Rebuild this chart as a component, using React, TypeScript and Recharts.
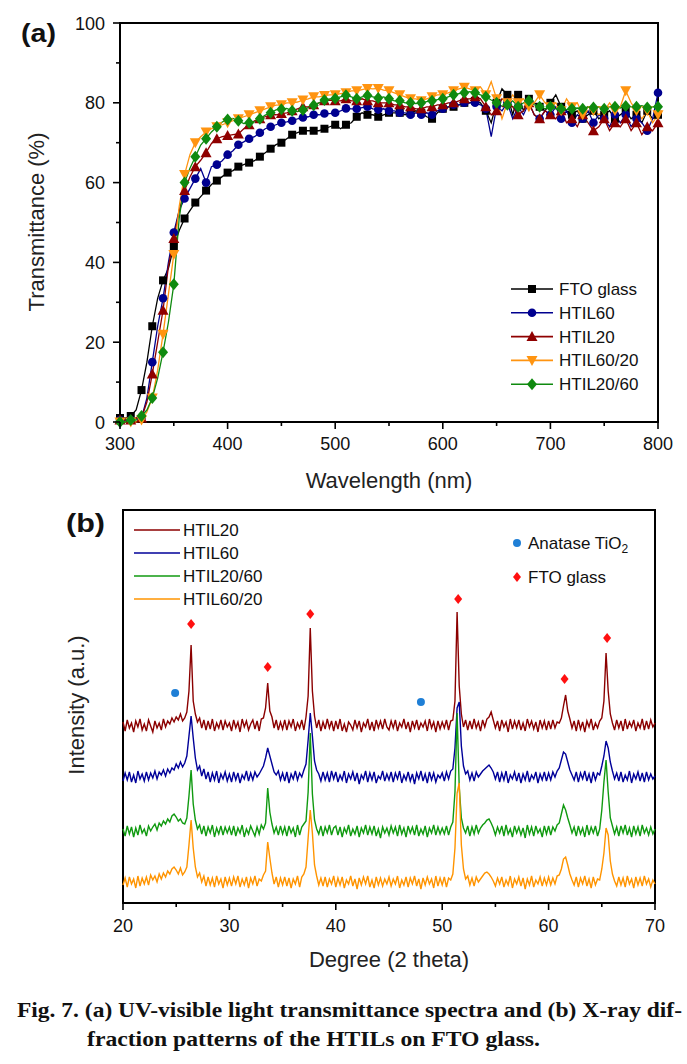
import React from 'react';
import { LineChart, Line, XAxis, YAxis, ReferenceArea, Legend, ComposedChart, Scatter } from 'recharts';

// ---------- (a) UV-visible transmittance, 300-800 nm every 5 nm ----------
const wavelengthStart = 300;
const wavelengthStep = 5;
const ftoGlassT = [
  1, 1, 1.5, 3, 8, 15, 24, 31, 35.5, 38.5,
  44, 48, 51, 53, 55, 56.5, 58, 59.5, 60.5, 61.5,
  62.5, 63, 64, 64.5, 65, 65.5, 66.5, 67.5, 68.5, 69.5,
  70, 71, 72, 72.5, 73, 73, 73, 73, 73.5, 74,
  74.5, 73.5, 74.5, 75, 76.5, 77.5, 77, 77, 76.5, 77,
  77.5, 77.5, 77.5, 77, 77.5, 78, 77.5, 76.5, 76, 77.5,
  78.5, 79, 79, 79.5, 80, 80, 80.5, 80, 78, 75,
  80, 83.5, 82, 77, 82, 78, 81, 80, 79, 78,
  80, 82, 79, 78, 77, 78, 76, 77, 78, 76,
  77, 78, 76, 77, 78, 76, 77, 75, 78, 76,
  77,
];
const htil60T = [
  0.5, 0.5, 0.5, 1, 1, 6, 15, 24, 31, 40,
  47.5, 53, 56, 58.5, 61, 63.5, 60, 64, 64.5, 65.5,
  67, 68, 69.5, 70.2, 71, 71.5, 72.5, 73.5, 74, 74.5,
  75, 75.2, 75.5, 76, 76.3, 76.5, 77, 77, 77.3, 77.3,
  77.5, 78, 78.6, 78.5, 78.5, 78.8, 79, 78.5, 78.3, 78.5,
  78, 78, 77.5, 77.5, 77, 77.5, 77, 77.5, 77, 78,
  78.5, 79, 79.5, 79.5, 80, 80, 80, 79.5, 78.5, 71.5,
  79, 78, 80, 76, 79, 77, 80, 77, 76, 78,
  77, 79, 76, 78, 75, 77, 76, 78, 75, 77,
  76, 74, 77, 75, 77, 74, 76, 75, 73, 76,
  82.5,
];
const htil20T = [
  0.5, 0.5, 0.5, 1, 1, 5, 12, 20, 28, 39,
  46, 53, 58, 61.4, 64, 65.6, 67.5, 69.8, 71, 71.5,
  71.8, 72, 72.2, 73.5, 74.5, 75.5, 76, 76.5, 77, 77,
  77.3, 77.5, 78, 78.5, 79, 79, 79.5, 80, 80.5, 80.7,
  80.5, 80.5, 81, 80.5, 80.5, 81, 80.5, 80.5, 80, 80,
  80, 79.5, 79.5, 79, 79, 78.5, 78.5, 79, 79, 79.5,
  79.5, 80, 80, 80.5, 81, 81, 81.5, 81, 79, 77,
  78, 81, 80, 79, 77, 78, 80, 77, 76, 78,
  77, 76, 78, 75, 76, 74, 77, 75, 73, 74,
  76, 73, 75, 74, 76, 73, 75, 72, 74, 73,
  75,
];
const htil6020T = [
  0, 0, 0, 0, 0.5, 2.5, 6, 13, 22, 32,
  42, 54, 62, 67, 70, 71.5, 72.7, 73.5, 74, 74.5,
  75, 75.5, 76, 76.5, 77, 77.5, 78, 78.5, 79, 79.4,
  79.5, 80, 80, 80.2, 80.7, 81, 81.5, 81.5, 81.8, 82,
  82, 82.3, 82.5, 83, 83, 83.3, 83.6, 83.5, 83.6, 83.2,
  83, 82.5, 82, 81.5, 81, 81, 80.5, 81, 81.5, 82,
  82, 82.5, 83, 83.5, 83.9, 83.5, 83, 84, 82, 85.3,
  81, 76, 80, 82, 80, 81, 79, 80, 82, 80,
  79, 80, 78, 81, 79, 80, 77, 79, 78, 77,
  78, 80, 78, 79, 83, 80, 78, 76, 78, 75,
  77,
];
const htil2060T = [
  0, 0, 0.5, 0.5, 1.5, 3, 6, 11, 17.5, 25,
  34.5, 51, 60, 63.6, 66.5, 69.4, 71, 72.7, 74, 75.2,
  75.8, 76.1, 75.5, 74.8, 75, 75.2, 76, 76.9, 77.5, 78.2,
  78.4, 78.6, 78, 77.8, 78.2, 78.8, 79.4, 80, 80.7, 81,
  81.1, 81.5, 81.9, 81.5, 81, 81.5, 81.8, 81.5, 81.2, 81.5,
  81, 80.5, 80.5, 80, 80, 79.8, 80, 80.3, 80.5, 80.8,
  81, 81.5, 82, 82.3, 82.5, 82.8, 82.5, 82, 81.5, 80.7,
  80, 79.1, 79.5, 80.5, 79, 80, 80.5, 79.5, 79, 78.5,
  79, 78.5, 78.5, 78.3, 78.5, 78.7, 78.5, 79, 78.8, 79,
  78.5, 79, 79, 78.7, 79.2, 79, 79, 79.3, 78.8, 79,
  79,
];
const uvNames = ['FTO glass', 'HTIL60', 'HTIL20', 'HTIL60/20', 'HTIL20/60'];
const uvColors = ['#000000', '#00008f', '#8f0000', '#ff9410', '#0f8a0f'];
const uvMarkers = ['square', 'circle', 'triangle', 'triangleDown', 'diamond'];
const uvXTicks = [300, 350, 400, 450, 500, 550, 600, 650, 700, 750, 800];
const uvYTicks = [0, 10, 20, 30, 40, 50, 60, 70, 80, 90, 100];
const uvSeries = [ftoGlassT, htil60T, htil20T, htil6020T, htil2060T];

const uvData = ftoGlassT.map((_, i) => {
  const row: any = { wl: wavelengthStart + i * wavelengthStep };
  uvSeries.forEach((s, k) => { row['s' + k] = s[i]; });
  return row;
});

// ---------- (b) XRD, 2theta 20-70 every 0.2 deg (raw intensities, a.u.) ----------
const twoThetaStart = 20;
const twoThetaStep = 0.2;
const xrdHtil20 = [
  4, -5, 6, -2, 3, -6, 5, -1, 7, -4, 2, -5, 6, 0, -6, 5, -2, 3, -4, 7, -1, 5, 2, 8, 4,
  9, 6, 12, 5, 8, 14, 35, 81, 25, 12, 4, 8, -2, 6, -4, 5, -3, 7, -5, 3, -2, 6, -4, 5, -1,
  3, -5, 6, -2, 4, -6, 7, -1, 5, -4, 2, 6, -3, 5, -5, 7, 8, 18, 43, 15, 9, -2, 6, -4, 4,
  -3, 6, -4, 5, -1, 7, -5, 3, -2, 6, -4, 9, 30, 98, 35, 10, -2, 6, -5, 4, -3, 7, -2, 5, -5,
  5, -3, 7, -5, 2, -6, 4, 1, -4, 6, -2, 5, -6, 3, -1, 7, -4, 4, -5, 6, -2, 5, -3, 7, -1,
  -4, 5, -2, 6, -5, 3, -1, 7, -3, 4, -6, 5, -2, 6, -4, 3, -1, 5, -5, 7, -2, 4, -6, 5, -3,
  4, -2, 6, -4, 5, 6, 25, 114, 40, 12, -1, 6, -4, 5, -3, 7, -2, 4, -5, 6, -1, 7, 9, 14, 6,
  -2, 5, -5, 6, -1, 4, -6, 7, -3, 5, -2, 6, -4, 3, -5, 7, -1, 5, -3, 4, -6, 6, -2, 5, -4,
  5, -3, 6, -2, 4, 3, 8, 20, 31, 15, 7, -2, 5, -5, 6, -3, 4, -6, 5, -1, 7, -4, 3, -2, 5,
  8, 25, 73, 35, 12, 3, -4, 6, -2, 5, -5, 7, -3, 4, -1, 6, -5, 3, -2, 7, -4, 5, -3, 6, -1,
  3,
];
const xrdHtil60 = [
  -3, 5, -2, 6, -4, 3, -5, 7, -1, 4, -3, 6, -2, 5, 0, 7, -1, 6, 3, 8, 2, 9, 5, 10, 8,
  14, 10, 16, 11, 15, 22, 42, 62, 40, 20, 8, 12, 2, 9, -1, 6, -4, 5, -2, 7, -5, 4, -1, 6, -3,
  4, -4, 6, -2, 5, -5, 3, -1, 7, -3, 5, -2, 6, 1, 4, 8, 12, 20, 30, 22, 14, 6, 3, 7, -2,
  5, -3, 6, -5, 4, -1, 7, -2, 5, 1, 8, 14, 38, 65, 42, 17, 8, 4, -3, 6, -2, 5, -4, 7, -1,
  6, -4, 3, -2, 7, -5, 4, -1, 6, -3, 5, -6, 3, -1, 7, -4, 5, -2, 6, -5, 2, -1, 7, -3, 4,
  -2, 6, -4, 5, -1, 7, -5, 3, -2, 6, -3, 4, -6, 5, -1, 7, -3, 4, -5, 6, -2, 5, -4, 3, 0,
  5, -3, 6, -1, 7, 9, 30, 70, 76, 32, 12, 4, 7, -2, 5, -3, 6, 1, 4, 7, 9, 11, 13, 10, 6,
  -1, 6, -4, 5, -2, 7, -5, 3, -1, 6, -3, 5, -5, 4, -2, 7, -4, 3, -1, 6, -5, 4, -2, 6, -3,
  5, -2, 6, 1, 7, 10, 18, 26, 24, 16, 8, 3, -2, 6, -4, 5, -1, 7, -3, 4, -5, 6, -2, 5, 3,
  12, 22, 37, 30, 16, 7, -1, 5, -3, 6, -4, 3, -2, 7, -5, 4, -1, 6, -3, 5, -4, 6, -2, 4, -1,
  2,
];
const xrdHtil2060 = [
  3, -4, 6, -2, 5, -5, 4, -3, 7, -1, 3, -4, 6, 1, 5, 8, 2, 9, 6, 11, 8, 13, 10, 16, 18,
  15, 11, 13, 9, 8, 14, 36, 62, 28, 12, 3, 7, -2, 6, -4, 5, -1, 7, -5, 4, -2, 6, -3, 5, -1,
  5, -3, 6, -4, 4, -1, 7, -5, 3, -2, 6, 1, -4, 5, -2, 7, 3, 9, 44, 20, 8, -1, 5, -3, 6,
  -2, 5, -4, 6, -1, 4, -5, 7, -3, 5, 8, 11, 40, 99, 38, 12, 3, -2, 6, -4, 5, -1, 7, -3, 4,
  6, -3, 5, -5, 4, -1, 7, -4, 3, -2, 6, -5, 4, -1, 7, -3, 5, -2, 6, -4, 3, -6, 5, -1, 4,
  -3, 6, -1, 5, -4, 7, -2, 4, -5, 6, -1, 5, -3, 7, -4, 3, -2, 6, -5, 4, -1, 7, -3, 5, -2,
  4, -2, 6, -3, 5, 10, 40, 119, 45, 14, 4, -1, 6, -4, 5, -2, 7, -1, 4, 7, 9, 12, 13, 9, 4,
  -3, 5, -1, 6, -4, 7, -2, 3, -5, 6, -1, 5, -3, 4, -6, 7, -2, 5, -4, 6, -1, 3, -5, 6, -2,
  6, -3, 5, 1, 7, 9, 18, 27, 22, 14, 7, -1, 5, -4, 6, -2, 4, -5, 7, -3, 5, -1, 6, -4, 3,
  22, 50, 72, 40, 14, 6, -2, 5, -4, 6, -1, 7, -3, 4, -5, 6, -2, 5, -4, 7, -1, 4, -3, 5, -2,
  3,
];
const xrdHtil6020 = [
  -2, 5, -4, 6, -1, 4, -5, 7, -3, 5, -1, 6, -2, 8, 3, 7, 1, 9, 4, 10, 6, 12, 9, 14, 16,
  13, 9, 15, 8, 11, 16, 38, 63, 35, 16, 6, 10, 1, 7, -3, 6, -2, 5, -4, 7, -1, 4, -5, 6, -2,
  5, -3, 6, -1, 7, -4, 4, -2, 6, -5, 5, -1, 7, -3, 4, 2, 8, 12, 41, 25, 10, -1, 6, -4, 5,
  -2, 6, -3, 5, -5, 4, -1, 7, -4, 6, 9, 16, 45, 73, 50, 18, 7, -2, 5, -3, 6, -4, 4, -1, 7,
  -4, 5, -2, 6, -5, 3, -1, 7, -3, 4, -6, 5, -2, 6, -1, 7, -4, 3, -5, 6, -2, 5, -3, 4, -1,
  6, -3, 4, -1, 7, -5, 3, -2, 6, -4, 5, -1, 7, -3, 4, -6, 5, -2, 6, -1, 4, -5, 7, -3, 5,
  -2, 6, -4, 5, 3, 9, 35, 90, 100, 38, 14, 4, 7, -2, 5, -3, 6, 1, 4, 7, 10, 11, 9, 6, 2,
  -3, 5, -1, 6, -4, 3, -2, 7, -5, 4, -1, 6, -3, 5, -6, 4, -2, 7, -4, 3, -1, 6, -3, 5, -2,
  6, -2, 5, -1, 7, 8, 14, 24, 26, 18, 9, 3, -2, 6, -4, 5, -1, 7, -3, 4, -5, 6, -2, 4, 3,
  14, 30, 55, 48, 22, 9, 2, -3, 6, -2, 5, -4, 7, -1, 4, -5, 6, -2, 5, -3, 7, -1, 4, -4, 3,
  -1,
];
const xrdNames = ['HTIL20', 'HTIL60', 'HTIL20/60', 'HTIL60/20'];
const xrdColors = ['#8b0000', '#000099', '#109a10', '#ff9400'];
const xrdOffsets = [177, 125, 71, 20];
const xrdSeries = [xrdHtil20, xrdHtil60, xrdHtil2060, xrdHtil6020];
const xrdXTicks = [20, 25, 30, 35, 40, 45, 50, 55, 60, 65, 70];
const anatasePeaks = [{ x: 24.9, y: 210 }, { x: 48.0, y: 201 }];
const ftoPeaks = [
  { x: 26.4, y: 279 }, { x: 33.6, y: 236 }, { x: 37.6, y: 289 },
  { x: 51.5, y: 304 }, { x: 61.5, y: 224 }, { x: 65.5, y: 265 },
];

const xrdData = xrdHtil20.map((_, i) => {
  const row: any = { x: Math.round((twoThetaStart + i * twoThetaStep) * 10) / 10 };
  xrdSeries.forEach((s, k) => { row['s' + k] = s[i] + xrdOffsets[k]; });
  return row;
});

const SANS = '"Liberation Sans", Arial, Helvetica, sans-serif';
const SERIF = '"Liberation Serif", "Times New Roman", serif';

function Marker({ shape, cx, cy, color }: any) {
  if (cx == null || cy == null) return null;
  switch (shape) {
    case 'square':
      return <rect x={cx - 4} y={cy - 4} width={8} height={8} fill={color} />;
    case 'circle':
      return <circle cx={cx} cy={cy} r={4.3} fill={color} />;
    case 'triangle':
      return <polygon points={`${cx},${cy - 5.5} ${cx + 5.5},${cy + 4.5} ${cx - 5.5},${cy + 4.5}`} fill={color} />;
    case 'triangleDown':
      return <polygon points={`${cx - 5.5},${cy - 4.5} ${cx + 5.5},${cy - 4.5} ${cx},${cy + 5.5}`} fill={color} />;
    default:
      return <polygon points={`${cx},${cy - 6} ${cx + 5},${cy} ${cx},${cy + 6} ${cx - 5},${cy}`} fill={color} />;
  }
}

const makeDot = (k: number) => (props: any) => {
  const { cx, cy, index } = props;
  if (index % 2 !== 0) return <g key={`d${k}-${index}`} />;
  return (
    <g key={`d${k}-${index}`}>
      <Marker shape={uvMarkers[k]} cx={cx} cy={cy} color={uvColors[k]} />
    </g>
  );
};

const UvXTick = (props: any) => {
  const { x, y, payload } = props;
  const v = payload.value;
  const major = v % 100 === 0;
  return (
    <g>
      <line x1={x} x2={x} y1={y} y2={y + (major ? 7 : 4)} stroke="#000" strokeWidth={1.6} />
      {major && (
        <text x={x} y={y + 28} textAnchor="middle" fontSize={18} fontFamily={SANS} fill="#111">{v}</text>
      )}
    </g>
  );
};

const UvYTick = (props: any) => {
  const { x, y, payload } = props;
  const v = payload.value;
  const major = v % 20 === 0;
  return (
    <g>
      <line x1={x} x2={x - (major ? 7 : 4)} y1={y} y2={y} stroke="#000" strokeWidth={1.6} />
      {major && (
        <text x={x - 15} y={y + 6.5} textAnchor="end" fontSize={18} fontFamily={SANS} fill="#111">{v}</text>
      )}
    </g>
  );
};

const XrdXTick = (props: any) => {
  const { x, y, payload } = props;
  const v = payload.value;
  const major = v % 10 === 0;
  return (
    <g>
      <line x1={x} x2={x} y1={y} y2={y + (major ? 7 : 4)} stroke="#000" strokeWidth={1.6} />
      {major && (
        <text x={x} y={y + 28.5} textAnchor="middle" fontSize={18} fontFamily={SANS} fill="#111">{v}</text>
      )}
    </g>
  );
};

const UvLegend = () => (
  <svg width={165} height={125}>
    {uvNames.map((n, i) => {
      const y = 14 + i * 23.8;
      return (
        <g key={n}>
          <line x1={6} x2={48} y1={y} y2={y} stroke={uvColors[i]} strokeWidth={1.6} />
          <Marker shape={uvMarkers[i]} cx={27} cy={y} color={uvColors[i]} />
          <text x={54} y={y + 6} fontSize={17} fontFamily={SANS} fill="#111">{n}</text>
        </g>
      );
    })}
  </svg>
);

const XrdLegend = () => (
  <svg width={530} height={110}>
    {xrdNames.map((n, i) => {
      const y = 20 + i * 23;
      return (
        <g key={n}>
          <line x1={9} x2={55} y1={y} y2={y} stroke={xrdColors[i]} strokeWidth={1.6} />
          <text x={58} y={y + 6} fontSize={17} fontFamily={SANS} fill="#111">{n}</text>
        </g>
      );
    })}
    <circle cx={392} cy={33} r={4} fill="#1f7fd6" />
    <text x={403} y={39} fontSize={17} fontFamily={SANS} fill="#111">
      Anatase TiO<tspan fontSize={12} dy={4}>2</tspan>
    </text>
    <polygon points="392,62 396,67 392,72 388,67" fill="#ff1010" />
    <text x={403} y={73} fontSize={17} fontFamily={SANS} fill="#111">FTO glass</text>
  </svg>
);

const DotShape = (props: any) => <circle cx={props.cx} cy={props.cy} r={4} fill="#1f7fd6" />;
const DiamondShape = (props: any) => (
  <polygon
    points={`${props.cx},${props.cy - 5} ${props.cx + 4},${props.cy} ${props.cx},${props.cy + 5} ${props.cx - 4},${props.cy}`}
    fill="#ff1010"
  />
);

export default function App() {
  return (
    <div style={{ position: 'absolute', left: 0, top: 0, width: 687, height: 1064, background: '#fff', overflow: 'hidden' }}>
      <div style={{ position: 'absolute', left: 0, top: 0 }}>
        <LineChart width={687} height={470} data={uvData} margin={{ top: 23, right: 29, bottom: 8, left: 60 }}>
          <XAxis
            dataKey="wl" type="number" domain={[300, 800]} ticks={uvXTicks} interval={0}
            height={40} tickSize={0} tickMargin={0} tickLine={false} axisLine={false} tick={<UvXTick />}
          />
          <YAxis
            type="number" domain={[0, 100]} ticks={uvYTicks} interval={0}
            width={60} tickSize={0} tickMargin={0} tickLine={false} axisLine={false} tick={<UvYTick />}
          />
          <ReferenceArea x1={300} x2={800} y1={0} y2={100} fill="none" fillOpacity={0} stroke="#000" strokeWidth={2} strokeOpacity={1} />
          {uvSeries.map((_, k) => (
            <Line
              key={k} dataKey={'s' + k} name={uvNames[k]} type="linear" stroke={uvColors[k]}
              strokeWidth={1.3} dot={makeDot(k)} activeDot={false} isAnimationActive={false}
            />
          ))}
          <Legend
            layout="vertical" align="center" verticalAlign="middle" content={<UvLegend />}
            wrapperStyle={{ position: 'absolute', left: 505, top: 275, width: 165, height: 125 }}
          />
        </LineChart>
      </div>

      <div style={{ position: 'absolute', left: 0, top: 480 }}>
        <ComposedChart width={687} height={470} data={xrdData} margin={{ top: 30, right: 32, bottom: 7, left: 123 }}>
          <XAxis
            dataKey="x" type="number" domain={[20, 70]} ticks={xrdXTicks} interval={0}
            height={40} tickSize={0} tickMargin={0} tickLine={false} axisLine={false} tick={<XrdXTick />}
          />
          <YAxis type="number" domain={[0, 393]} hide />
          <ReferenceArea x1={20} x2={70} y1={0} y2={393} fill="none" fillOpacity={0} stroke="#000" strokeWidth={2} strokeOpacity={1} />
          {xrdSeries.map((_, k) => (
            <Line
              key={k} dataKey={'s' + k} name={xrdNames[k]} type="linear" stroke={xrdColors[k]}
              strokeWidth={1.4} dot={false} activeDot={false} isAnimationActive={false}
            />
          ))}
          <Scatter data={anatasePeaks} dataKey="y" shape={<DotShape />} isAnimationActive={false} />
          <Scatter data={ftoPeaks} dataKey="y" shape={<DiamondShape />} isAnimationActive={false} />
          <Legend
            layout="vertical" align="center" verticalAlign="middle" content={<XrdLegend />}
            wrapperStyle={{ position: 'absolute', left: 125, top: 30, width: 530, height: 110 }}
          />
        </ComposedChart>
      </div>

      <svg width={687} height={1064} style={{ position: 'absolute', left: 0, top: 0, pointerEvents: 'none' }}>
        <text x={21} y={42} fontSize={26} fontWeight="bold" fontFamily={SANS} fill="#111" textLength={35} lengthAdjust="spacingAndGlyphs">(a)</text>
        <text x={66} y={532} fontSize={26} fontWeight="bold" fontFamily={SANS} fill="#111" textLength={39} lengthAdjust="spacingAndGlyphs">(b)</text>
        <text x={44} y={222} transform="rotate(-90, 44, 222)" textAnchor="middle" fontSize={22} fontFamily={SANS} fill="#222">Transmittance (%)</text>
        <text x={389} y={488} textAnchor="middle" fontSize={22} fontFamily={SANS} fill="#222">Wavelength (nm)</text>
        <text x={84} y={705} transform="rotate(-90, 84, 705)" textAnchor="middle" fontSize={22} fontFamily={SANS} fill="#222">Intensity (a.u.)</text>
        <text x={389} y={967} textAnchor="middle" fontSize={22} fontFamily={SANS} fill="#222">Degree (2 theta)</text>
        <text x={17} y={1017} fontSize={21} fontWeight="bold" fontFamily={SERIF} fill="#111" textLength={665} lengthAdjust="spacingAndGlyphs">Fig. 7. (a) UV-visible light transmittance spectra and (b) X-ray dif-</text>
        <text x={87} y={1046} fontSize={21} fontWeight="bold" fontFamily={SERIF} fill="#111" textLength={453} lengthAdjust="spacingAndGlyphs">fraction patterns of the HTILs on FTO glass.</text>
      </svg>
    </div>
  );
}
